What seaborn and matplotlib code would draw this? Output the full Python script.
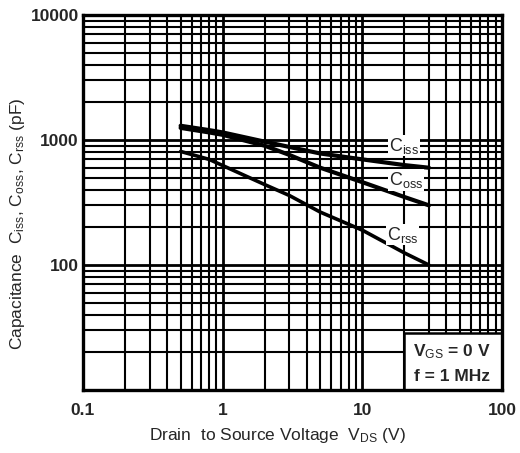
import matplotlib
matplotlib.use("Agg")
import matplotlib.pyplot as plt
from matplotlib.ticker import LogLocator, FixedLocator, FixedFormatter, NullFormatter
from matplotlib.patches import Rectangle
import seaborn as sns
import pandas as pd

# Data
vds = [0.5, 0.8, 1, 2, 3, 5, 10, 20, 30]
ciss = [1300, 1200, 1150, 970, 880, 780, 700, 630, 600]
coss = [1250, 1150, 1100, 900, 760, 600, 460, 350, 300]
crss = [810, 700, 625, 440, 360, 265, 190, 125, 100]

x_ticks = [0.1, 1, 10, 100]
x_tick_labels = ["0.1", "1", "10", "100"]
y_ticks = [100, 1000, 10000]
y_tick_labels = ["100", "1000", "10000"]

sns.set_theme(style="white")
plt.rcParams["font.family"] = ["Liberation Sans", "DejaVu Sans"]
plt.rcParams["mathtext.fontset"] = "custom"
plt.rcParams["mathtext.rm"] = "Liberation Sans"
plt.rcParams["mathtext.it"] = "Liberation Sans"
plt.rcParams["mathtext.bf"] = "Liberation Sans:bold"

df = pd.DataFrame({
    "vds": vds * 3,
    "cap": ciss + coss + crss,
    "series": ["Ciss"] * len(vds) + ["Coss"] * len(vds) + ["Crss"] * len(vds),
})

fig = plt.figure(figsize=(5.2, 4.53), dpi=100)
ax = fig.add_axes([0.1596, 0.139, 0.8058, 0.8279])

sns.lineplot(data=df, x="vds", y="cap", hue="series",
             palette={"Ciss": "black", "Coss": "black", "Crss": "black"},
             size="series", sizes={"Ciss": 3.0, "Coss": 3.0, "Crss": 2.6},
             legend=False, ax=ax, zorder=3)

ax.set_xscale("log")
ax.set_yscale("log")
ax.set_xlim(0.1, 100)
ax.set_ylim(10, 10000)

ax.xaxis.set_major_locator(FixedLocator(x_ticks))
ax.xaxis.set_major_formatter(FixedFormatter(x_tick_labels))
ax.yaxis.set_major_locator(FixedLocator(y_ticks))
ax.yaxis.set_major_formatter(FixedFormatter(y_tick_labels))
ax.xaxis.set_minor_locator(LogLocator(base=10, subs=range(2, 10), numticks=20))
ax.yaxis.set_minor_locator(LogLocator(base=10, subs=range(2, 10), numticks=20))
ax.xaxis.set_minor_formatter(NullFormatter())
ax.yaxis.set_minor_formatter(NullFormatter())

ax.grid(which="major", color="black", lw=2.0)
ax.grid(which="minor", color="black", lw=1.5)
ax.set_axisbelow(True)
ax.tick_params(which="both", length=0)
ax.tick_params(axis="x", pad=9, labelsize=12.5)
ax.tick_params(axis="y", pad=3, labelsize=12.5)
for lab in ax.get_xticklabels() + ax.get_yticklabels():
    lab.set_fontweight("bold")
for sp in ax.spines.values():
    sp.set_color("black")
    sp.set_linewidth(2.4)

ax.set_xlabel(r"Drain  to Source Voltage  V$_{\rm DS}$ (V)", fontsize=12.5)
ax.set_ylabel(r"Capacitance  C$_{\rm iss}$, C$_{\rm oss}$, C$_{\rm rss}$ (pF)", fontsize=12.5)
ax.xaxis.set_label_coords(0.463, -0.097)
ax.yaxis.set_label_coords(-0.133, 0.443)

# curve labels
bb = dict(facecolor="white", edgecolor="none", pad=0.5)
ax.text(15.5, 900, r"C$_{\rm iss}$", fontsize=13, va="center", ha="left", bbox=bb, zorder=4)
ax.text(15.5, 480, r"C$_{\rm oss}$", fontsize=13, va="center", ha="left", bbox=bb, zorder=4)
ax.text(15.0, 175, r"C$_{\rm rss}$", fontsize=13, va="center", ha="left", bbox=bb, zorder=4)

# condition box
ax.add_patch(Rectangle((20, 10), 80, 18.5, facecolor="white", edgecolor="black",
                       lw=1.8, zorder=2.5))
ax.text(44, 20.1, r"V$_{\rm GS}$ = 0 V", fontsize=12.5, fontweight="bold",
        ha="center", va="center", zorder=4)
ax.text(44, 12.9, "f = 1 MHz", fontsize=12.5, fontweight="bold",
        ha="center", va="center", zorder=4)

fig.savefig("out.png", dpi=100)
